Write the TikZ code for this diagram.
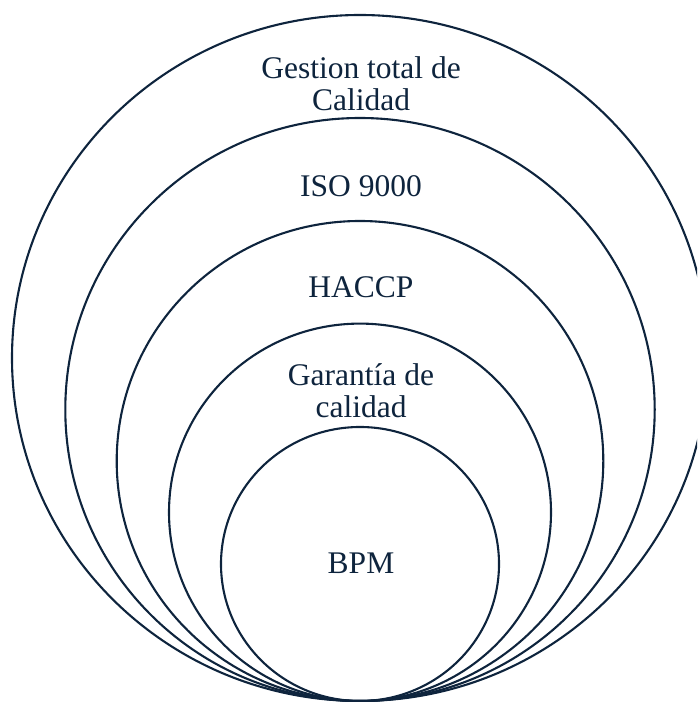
\documentclass[tikz,border=0pt]{standalone}
\usepackage{fontspec}
\setmainfont{Liberation Serif}
\usepackage{xcolor}
\definecolor{ringblue}{RGB}{14,36,61}

\begin{document}
\begin{tikzpicture}[x=1pt,y=1pt,
  ring/.style={draw=ringblue,line width=2.1pt},
  lab/.style={text=ringblue,align=center,font=\fontsize{31.5}{32}\selectfont,inner sep=0pt}]
\useasboundingbox (0,0) rectangle (697,702);
\clip (0,0) rectangle (697,702);
% rings, all touching at the bottom
\draw[ring] (360,344) ellipse [x radius=348,y radius=343];
\draw[ring] (360,292.5) ellipse [x radius=294.7,y radius=291.5];
\draw[ring] (360,241) ellipse [x radius=243.3,y radius=240];
\draw[ring] (360,189.7) ellipse [x radius=191,y radius=188.7];
\draw[ring] (360,138) ellipse [x radius=139,y radius=137];
% labels
\node[lab] (tqm) at (361,618) {Gestion total de\\Calidad};
\node[lab] (iso) at (361,516) {ISO 9000};
\node[lab] (haccp) at (361,415) {HACCP};
\node[lab] (qa) at (361,311) {Garantía de\\calidad};
\node[lab] (bpm) at (361,139) {BPM};
\end{tikzpicture}
\end{document}
